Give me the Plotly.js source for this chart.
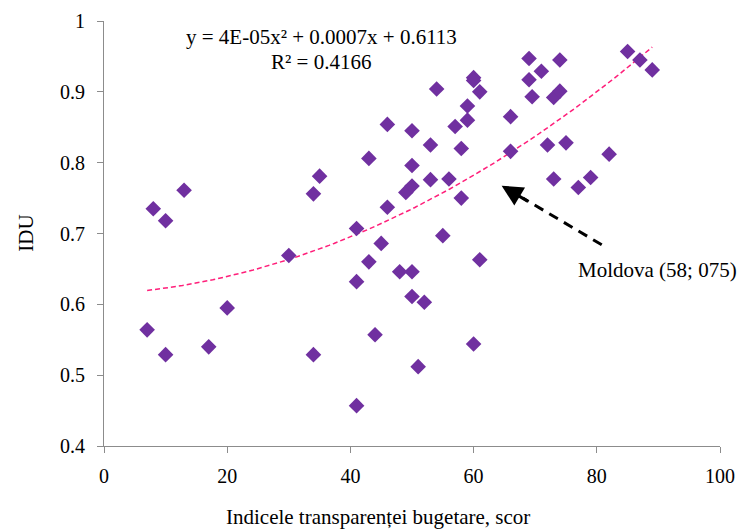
<!DOCTYPE html>
<html>
<head>
<meta charset="utf-8">
<script src="https://cdn.plot.ly/plotly-3.0.1.min.js"></script>
<style>
html,body{margin:0;padding:0;background:#fff;}
#chart{width:741px;height:531px;}
</style>
</head>
<body>
<div id="chart"></div>
<script>
// Budget transparency index score (x) and HDI / IDU (y)
var scoreX = [7, 8, 10, 13, 10, 17, 20, 30, 34, 35, 34, 41, 41, 41, 43, 43, 44, 45, 46, 46,
  48, 49, 50, 50, 50, 50, 50, 51, 52, 53, 53, 54, 55, 56, 57, 58, 58, 59, 59, 60,
  60, 60, 61, 61, 66, 66, 69, 69, 69.5, 71, 72, 73, 73, 74, 74, 75, 77, 79, 82, 85,
  87, 89];
var iduY = [0.564, 0.735, 0.718, 0.761, 0.529, 0.540, 0.595, 0.669, 0.756, 0.781, 0.529, 0.707, 0.632, 0.457, 0.806, 0.660, 0.557, 0.686, 0.854, 0.737,
  0.646, 0.758, 0.767, 0.845, 0.796, 0.646, 0.611, 0.512, 0.603, 0.825, 0.776, 0.904, 0.697, 0.777, 0.851, 0.820, 0.750, 0.860, 0.880, 0.920,
  0.916, 0.544, 0.900, 0.663, 0.865, 0.816, 0.947, 0.917, 0.893, 0.929, 0.825, 0.892, 0.777, 0.945, 0.901, 0.828, 0.765, 0.779, 0.812, 0.957,
  0.945, 0.931];
var eqLine1 = 'y = 4E-05x² + 0.0007x + 0.6113';
var eqLine2 = 'R² = 0.4166';
var moldovaLabel = 'Moldova (58; 075)';
var xTitle = 'Indicele transparenței bugetare, scor';
var yTitle = 'IDU';

// quadratic least-squares trendline from the data
function quadFit(xs, ys) {
  var S = [0,0,0,0,0], T = [0,0,0];
  for (var i = 0; i < xs.length; i++) {
    var p = 1;
    for (var k = 0; k < 5; k++) { S[k] += p; if (k < 3) T[k] += p * ys[i]; p *= xs[i]; }
  }
  var A = [[S[0],S[1],S[2],T[0]],[S[1],S[2],S[3],T[1]],[S[2],S[3],S[4],T[2]]];
  for (var c = 0; c < 3; c++) {
    for (var r = c + 1; r < 3; r++) {
      var f = A[r][c] / A[c][c];
      for (var j = c; j < 4; j++) A[r][j] -= f * A[c][j];
    }
  }
  var sol = [0,0,0];
  for (var r2 = 2; r2 >= 0; r2--) {
    var s = A[r2][3];
    for (var j2 = r2 + 1; j2 < 3; j2++) s -= A[r2][j2] * sol[j2];
    sol[r2] = s / A[r2][r2];
  }
  return sol; // c0, c1, c2
}
var coef = quadFit(scoreX, iduY);
var xmin = Math.min.apply(null, scoreX), xmax = Math.max.apply(null, scoreX);
var trendX = [], trendY = [];
for (var t = 0; t <= 100; t++) {
  var xv = xmin + (xmax - xmin) * t / 100;
  trendX.push(xv);
  trendY.push(coef[0] + coef[1] * xv + coef[2] * xv * xv);
}

var font = 'Liberation Serif';
var data = [
  {
    x: trendX, y: trendY, type: 'scatter', mode: 'lines',
    line: {color: '#FF1F7A', width: 1.5, dash: '5px,3px'},
    hoverinfo: 'skip', showlegend: false
  },
  {
    x: scoreX, y: iduY, type: 'scatter', mode: 'markers',
    marker: {symbol: 'diamond', size: 12, color: '#7030A0', line: {width: 0}},
    showlegend: false
  }
];

var layout = {
  width: 741, height: 531,
  margin: {l: 104, r: 21, t: 21, b: 85, pad: 0},
  paper_bgcolor: '#ffffff', plot_bgcolor: '#ffffff',
  font: {family: font, size: 20, color: '#000'},
  showlegend: false,
  xaxis: {
    range: [0, 100], tickvals: [0, 20, 40, 60, 80, 100], ticktext: ['0','20','40','60','80','100'],
    showgrid: false, zeroline: false, showline: true, linecolor: '#8c8c8c', linewidth: 1,
    ticks: 'outside', ticklen: 6, tickcolor: '#8c8c8c', tickwidth: 1,
    tickfont: {family: font, size: 20, color: '#000'}, ticklabelstandoff: 6
  },
  yaxis: {
    range: [0.4, 1], tickvals: [0.4, 0.5, 0.6, 0.7, 0.8, 0.9, 1], ticktext: ['0.4','0.5','0.6','0.7','0.8','0.9','1'],
    showgrid: false, zeroline: false, showline: true, linecolor: '#8c8c8c', linewidth: 1,
    ticks: 'outside', ticklen: 6, tickcolor: '#8c8c8c', tickwidth: 1,
    tickfont: {family: font, size: 20, color: '#000'}, ticklabelstandoff: 8
  },
  shapes: [
    {type: 'line', xref: 'x', yref: 'y', x0: 80.8, y0: 0.684, x1: 68.0, y1: 0.750,
     line: {color: '#000', width: 3, dash: '10px,7px'}}
  ],
  annotations: [
    {xref: 'x', yref: 'y', x: 64.55, y: 0.7675, ax: 69.0, ay: 0.7445, axref: 'x', ayref: 'y',
     text: '', showarrow: true, arrowhead: 2, arrowsize: 1.4, arrowwidth: 3, arrowcolor: '#000'},
    {xref: 'x', yref: 'y', x: 35.3, y: 0.977, text: eqLine1, showarrow: false,
     xanchor: 'center', yanchor: 'middle', font: {family: font, size: 21, color: '#000'}},
    {xref: 'x', yref: 'y', x: 35.3, y: 0.9425, text: eqLine2, showarrow: false,
     xanchor: 'center', yanchor: 'middle', font: {family: font, size: 21, color: '#000'}},
    {xref: 'x', yref: 'y', x: 76.7, y: 0.649, text: moldovaLabel, showarrow: false,
     xanchor: 'left', yanchor: 'middle', font: {family: font, size: 21, color: '#000'}},
    {xref: 'x', yref: 'paper', x: 44.4, y: -0.167, text: xTitle, showarrow: false,
     xanchor: 'center', yanchor: 'middle', font: {family: font, size: 21, color: '#000'}},
    {xref: 'paper', yref: 'y', x: -0.128, y: 0.70, text: yTitle, showarrow: false, textangle: -90,
     xanchor: 'center', yanchor: 'middle', font: {family: font, size: 21, color: '#000'}}
  ]
};

Plotly.newPlot('chart', data, layout, {displayModeBar: false, staticPlot: true});
</script>
</body>
</html>
